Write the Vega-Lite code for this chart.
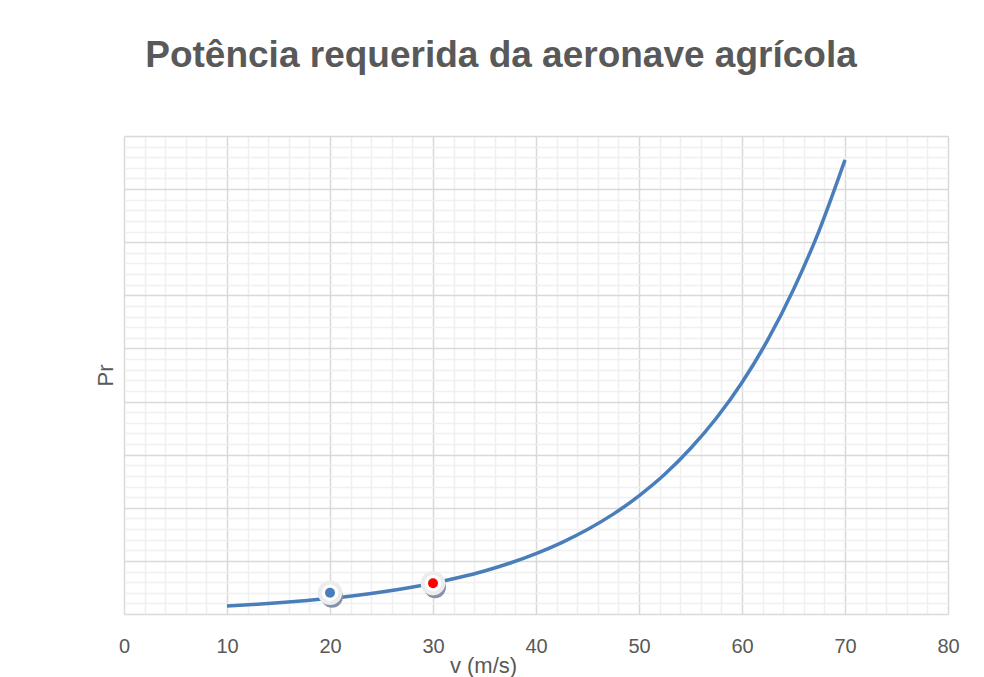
{
  "$schema": "https://vega.github.io/schema/vega-lite/v6.json",
  "width": 824,
  "height": 478,
  "autosize": {"type": "none"},
  "padding": {"left": 124, "top": 136, "right": 36, "bottom": 63},
  "background": "white",
  "title": {
    "text": "Potência requerida da aeronave agrícola",
    "font": "Liberation Sans",
    "fontSize": 37,
    "fontWeight": "bold",
    "color": "#595959",
    "anchor": "middle",
    "dx": -35,
    "offset": 32,
    "baseline": "alphabetic"
  },
  "config": {"view": {"stroke": null}},
  "datasets": {
    "curve": [
      {"v": 10, "pr": 0.15},
      {"v": 12.5, "pr": 0.178},
      {"v": 15, "pr": 0.21},
      {"v": 17.5, "pr": 0.25},
      {"v": 20, "pr": 0.296},
      {"v": 22.5, "pr": 0.35},
      {"v": 25, "pr": 0.414},
      {"v": 27.5, "pr": 0.49},
      {"v": 30, "pr": 0.58},
      {"v": 32.5, "pr": 0.686},
      {"v": 35, "pr": 0.81},
      {"v": 37.5, "pr": 0.96},
      {"v": 40, "pr": 1.137},
      {"v": 42.5, "pr": 1.345},
      {"v": 45, "pr": 1.59},
      {"v": 47.5, "pr": 1.88},
      {"v": 50, "pr": 2.225},
      {"v": 52.5, "pr": 2.63},
      {"v": 55, "pr": 3.115},
      {"v": 57.5, "pr": 3.685},
      {"v": 60, "pr": 4.36},
      {"v": 62.5, "pr": 5.16},
      {"v": 65, "pr": 6.11},
      {"v": 67.5, "pr": 7.225},
      {"v": 70, "pr": 8.55}
    ],
    "markers": [
      {"v": 20, "pr": 0.40, "ponto": "A"},
      {"v": 30, "pr": 0.58, "ponto": "B"}
    ]
  },
  "layer": [
    {
      "data": {"name": "markers"},
      "mark": {"type": "point", "opacity": 0},
      "encoding": {
        "x": {
          "field": "v", "type": "quantitative",
          "scale": {"domain": [0, 80], "nice": false, "zero": false},
          "axis": {
            "orient": "top",
            "values": [2,4,6,8,12,14,16,18,22,24,26,28,32,34,36,38,42,44,46,48,52,54,56,58,62,64,66,68,72,74,76,78],
            "grid": true, "gridColor": "#f0f0f0", "gridWidth": 1.5,
            "labels": false, "ticks": false, "domain": false, "title": null
          }
        },
        "y": {
          "field": "pr", "type": "quantitative",
          "scale": {"domain": [0, 9], "nice": false, "zero": false},
          "axis": {
            "orient": "right",
            "values": [0.2,0.4,0.6,0.8,1.2,1.4,1.6,1.8,2.2,2.4,2.6,2.8,3.2,3.4,3.6,3.8,4.2,4.4,4.6,4.8,5.2,5.4,5.6,5.8,6.2,6.4,6.6,6.8,7.2,7.4,7.6,7.8,8.2,8.4,8.6,8.8],
            "grid": true, "gridColor": "#f0f0f0", "gridWidth": 1.5,
            "labels": false, "ticks": false, "domain": false, "title": null
          }
        }
      }
    },
    {
      "encoding": {
        "x": {
          "field": "v", "type": "quantitative",
          "scale": {"domain": [0, 80], "nice": false, "zero": false},
          "axis": {
            "orient": "bottom",
            "values": [0,10,20,30,40,50,60,70,80],
            "grid": true, "gridColor": "#d9d9d9", "gridWidth": 1.5,
            "domain": false, "ticks": false,
            "labelFlush": false,
            "labelFont": "Liberation Sans", "labelFontSize": 20, "labelColor": "#595959",
            "labelPadding": 22,
            "title": "v (m/s)",
            "titleFont": "Liberation Sans", "titleFontSize": 22, "titleFontWeight": "normal", "titleColor": "#595959",
            "titleX": 359, "titleY": 58, "titleBaseline": "alphabetic", "titleAnchor": "middle"
          }
        },
        "y": {
          "field": "pr", "type": "quantitative",
          "scale": {"domain": [0, 9], "nice": false, "zero": false},
          "axis": {
            "orient": "left",
            "values": [0,1,2,3,4,5,6,7,8,9],
            "grid": true, "gridColor": "#d9d9d9", "gridWidth": 1.5,
            "domain": false, "ticks": false, "labels": false,
            "title": "Pr",
            "titleFont": "Liberation Sans", "titleFontSize": 22, "titleFontWeight": "normal", "titleColor": "#595959",
            "titlePadding": 7
          }
        }
      },
      "layer": [
        {
          "data": {"name": "curve"},
          "mark": {"type": "line", "interpolate": "monotone", "color": "#4a7ebb", "strokeWidth": 3.5}
        },
        {
          "data": {"name": "markers"},
          "mark": {"type": "circle", "color": "#8592a8", "opacity": 1, "size": 480, "xOffset": 2, "yOffset": 4}
        },
        {
          "data": {"name": "markers"},
          "mark": {"type": "circle", "fill": "white", "stroke": "#ececec", "strokeWidth": 4, "opacity": 1, "size": 420}
        },
        {
          "data": {"name": "markers"},
          "mark": {"type": "circle", "opacity": 1, "size": 100},
          "encoding": {
            "color": {"field": "ponto", "type": "nominal", "scale": {"domain": ["A", "B"], "range": ["#4a7ebb", "#ff0000"]}, "legend": null}
          }
        }
      ]
    }
  ],
  "resolve": {"scale": {"x": "independent", "y": "independent"}}
}
